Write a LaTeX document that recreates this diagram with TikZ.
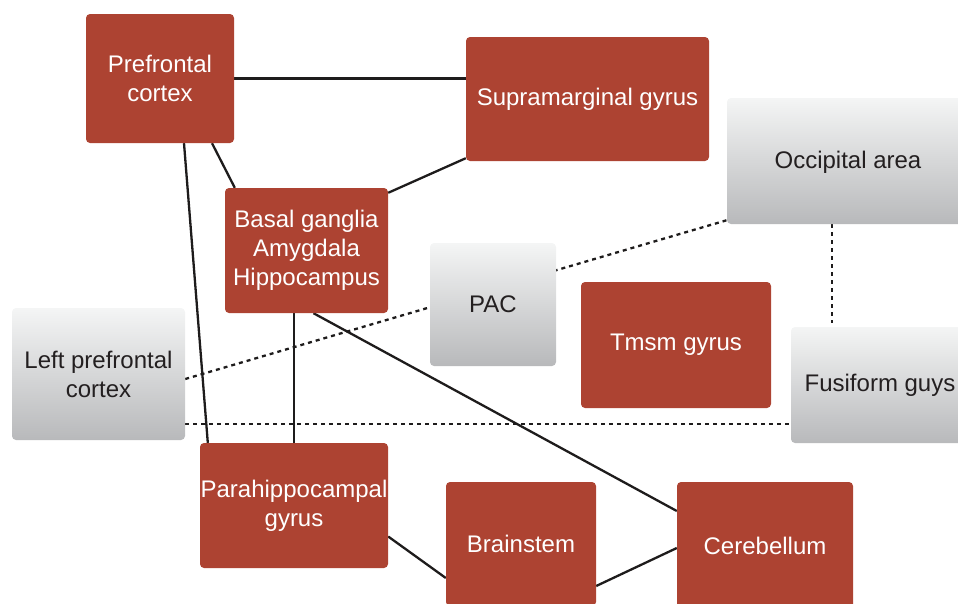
\documentclass[tikz,border=0pt]{standalone}
\usepackage{fontspec}
\setmainfont{Liberation Sans}
\usetikzlibrary{positioning, backgrounds}

\definecolor{brainred}{RGB}{173,67,50}
\definecolor{grtop}{RGB}{244,245,245}
\definecolor{grbot}{RGB}{184,185,187}
\definecolor{grtext}{RGB}{35,31,32}
\definecolor{linecol}{RGB}{30,28,28}

\begin{document}
\begin{tikzpicture}[x=1pt,y=-1pt,
	region/.style={rectangle, rounded corners=4pt, inner sep=0pt, align=center,
		font=\fontsize{24}{29}\selectfont},
	redbox/.style={region, fill=brainred, text=white},
	graybox/.style={region, top color=grtop, bottom color=grbot, text=grtext},
	link/.style={line width=2.3pt, draw=linecol},
	weak/.style={line width=2.3pt, draw=linecol, dash pattern=on 4pt off 4pt}]
			\useasboundingbox (0,0) rectangle (958,603);
			% regions
			\node[redbox, minimum width=148pt, minimum height=129pt] (pfc) at (160,78.5) {Prefrontal\\cortex};
			\node[redbox, minimum width=243pt, minimum height=124pt] (smg) at (587.5,99) {Supramarginal gyrus};
			\node[redbox, minimum width=163pt, minimum height=125pt] (bg) at (306.5,250.5) {Basal ganglia\\Amygdala\\Hippocampus};
			\node[graybox, minimum width=242pt, minimum height=126pt, text depth=2pt] (occ) at (848,161) {Occipital area};
			\node[graybox, minimum width=126pt, minimum height=123pt] (pac) at (493,304.5) {PAC};
			\node[redbox, minimum width=190pt, minimum height=126pt] (tmsm) at (676,345) {Tmsm gyrus};
			\node[graybox, minimum width=173pt, minimum height=132pt] (lpfc) at (98.5,374) {Left prefrontal\\cortex};
			\node[graybox, minimum width=178pt, minimum height=116pt] (fus) at (880,385) {Fusiform guys};
			\node[redbox, minimum width=188pt, minimum height=125pt] (para) at (294,505.5) {Parahippocampal\\gyrus};
			\node[redbox, minimum width=150pt, minimum height=124pt] (brain) at (521,544) {Brainstem};
			\node[redbox, minimum width=176pt, minimum height=128pt] (cer) at (765,546) {Cerebellum};
			% connections
			\begin{scope}[on background layer]
			\path[link]
				(pfc.east) edge (pfc.east -| smg.west)
				([xshift=52pt]pfc.south) edge ([xshift=10pt]bg.north west)
				([xshift=24pt]pfc.south) edge ([xshift=8pt]para.north west)
				([yshift=3pt]smg.south west) edge ([yshift=-5pt]bg.north east)
				(para.north |- bg.south) edge (para.north)
				([xshift=7pt]bg.south) edge ([yshift=35pt]cer.west)
				([yshift=-31pt]para.east) edge ([yshift=-34pt]brain.west)
				([yshift=-42pt]brain.east) edge ([yshift=-2pt]cer.west);
			\path[weak]
				([yshift=-5pt]lpfc.east) edge ([yshift=4pt]occ.south west)
				([yshift=16pt]lpfc.south east) edge ([yshift=16pt]lpfc.south east -| fus.west)
				([xshift=-16pt]occ.south) edge[shorten >=4pt] ([xshift=-48pt]fus.north);
			\end{scope}
		\end{tikzpicture}
\end{document}
